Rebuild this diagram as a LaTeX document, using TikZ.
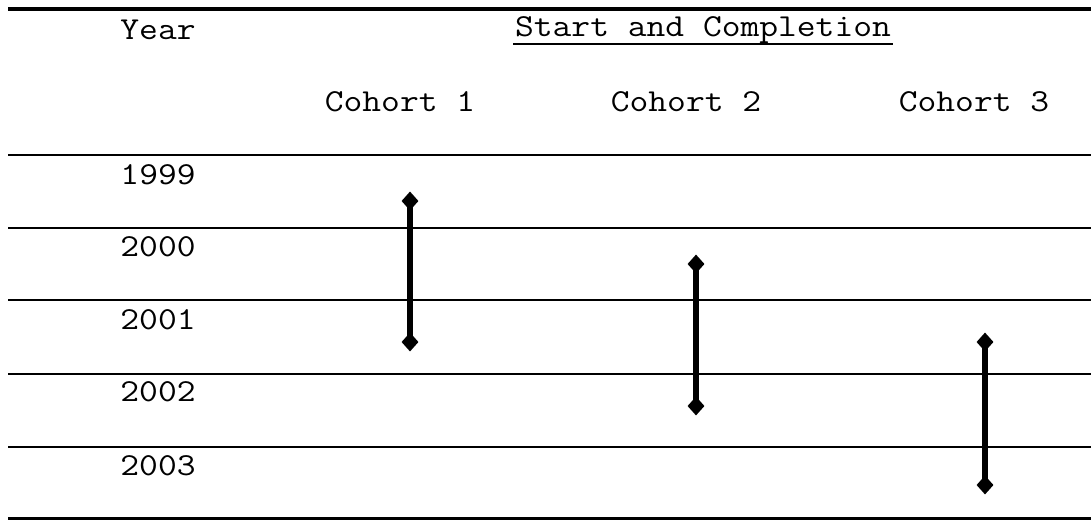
\documentclass[tikz,border=0pt]{standalone}
\usepackage{fontspec}
\usepackage{graphicx}
\usetikzlibrary{shapes.geometric}
\newcommand\cw[1]{\scalebox{1.14}[1]{#1}}
\begin{document}
\begin{tikzpicture}[x=1pt,y=-1pt,
  txt/.style={font=\ttfamily\fontsize{32}{34}\selectfont, inner sep=0pt, anchor=center},
  rule/.style={line width=1.8pt},
  thickrule/.style={line width=3.2pt},
  tip/.style={diamond, fill=black, inner sep=0pt, minimum width=17pt, minimum height=19pt},
  bar/.style={line width=6pt}]
\useasboundingbox (0,0) rectangle (1091,520);
% rules
\draw[thickrule] (8,9) -- (1091,9);
\draw[rule] (8,155) -- (1091,155);
\draw[rule] (8,228) -- (1091,228);
\draw[rule] (8,300) -- (1091,300);
\draw[rule] (8,374) -- (1091,374);
\draw[rule] (8,447) -- (1091,447);
\draw[thickrule] (8,518.5) -- (1091,518.5);
% header
\node[txt] (year) at (158,30) {\cw{Year}};
\node[txt] (sc) at (703,30) {\cw{Start and Completion}};
\draw[line width=1.5pt] (513,44) -- (893,44);
\node[txt] (h1) at (400,102) {\cw{Cohort 1}};
\node[txt] (h2) at (686,102) {\cw{Cohort 2}};
\node[txt] (h3) at (974,102) {\cw{Cohort 3}};
% years
\node[txt] (y1999) at (158,175) {\cw{1999}};
\node[txt] (y2000) at (158,247) {\cw{2000}};
\node[txt] (y2001) at (158,320) {\cw{2001}};
\node[txt] (y2002) at (158,392) {\cw{2002}};
\node[txt] (y2003) at (158,466) {\cw{2003}};
% bars
\node[tip] (c1s) at (410,201) {};
\node[tip] (c1e) at (410,342) {};
\node[tip] (c2s) at (696,264) {};
\node[tip] (c2e) at (696,406) {};
\node[tip] (c3s) at (985,342) {};
\node[tip] (c3e) at (985,485) {};
\draw[bar] (c1s.center) -- (c1e.center);
\draw[bar] (c2s.center) -- (c2e.center);
\draw[bar] (c3s.center) -- (c3e.center);
\end{tikzpicture}
\end{document}
